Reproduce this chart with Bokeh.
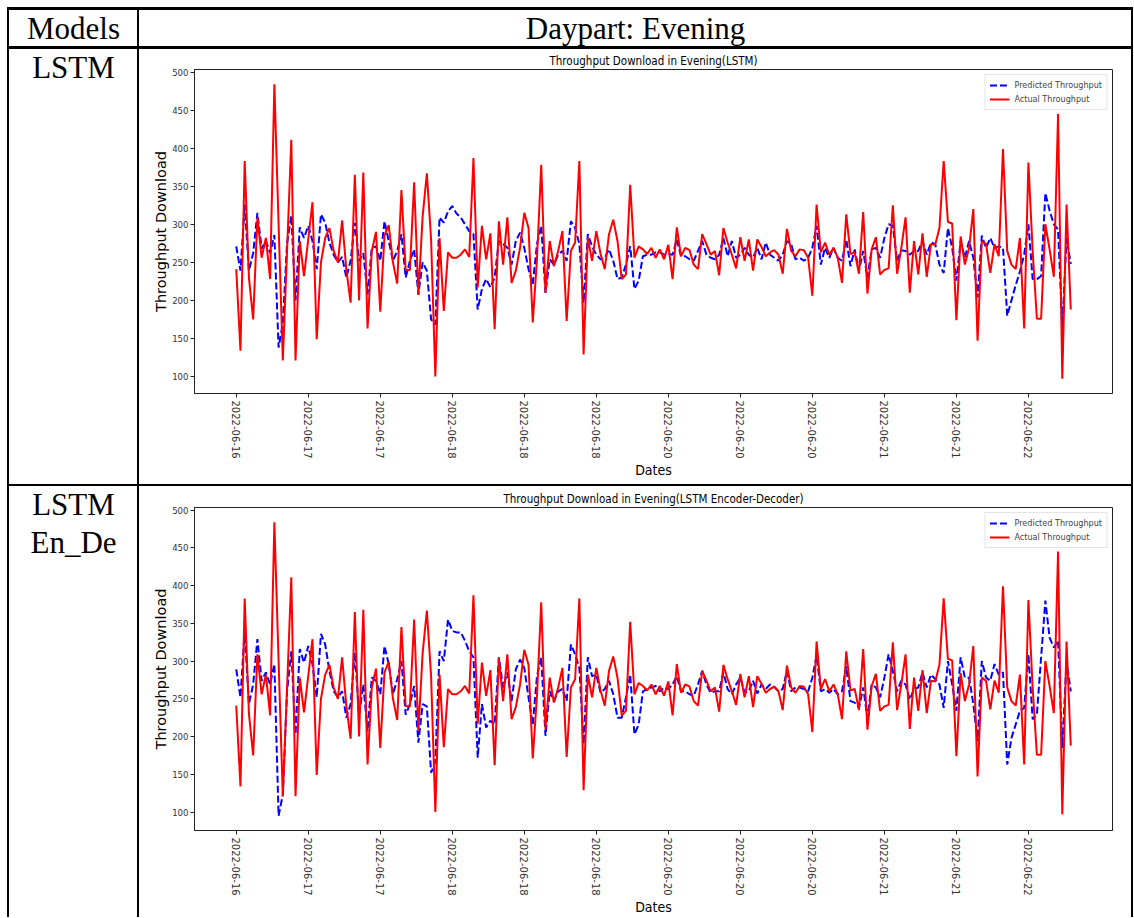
from bokeh.plotting import figure
from bokeh.layouts import column, row
from bokeh.models import Range1d, FixedTicker, Legend, LegendItem, Spacer, Div
from bokeh.core.properties import value
from bokeh.embed import file_html
from bokeh.resources import INLINE
from bokeh.core.validation import silence
from bokeh.core.validation.warnings import MISSING_RENDERERS

silence(MISSING_RENDERERS, True)

# ---------------- data ----------------
header_labels = ["Models", "Daypart: Evening"]
model_labels = [["LSTM"], ["LSTM", "En_De"]]
chart_titles = ["Throughput Download in Evening(LSTM)",
                "Throughput Download in Evening(LSTM Encoder-Decoder)"]
tick_labels = ["2022-06-16", "2022-06-17", "2022-06-17", "2022-06-18", "2022-06-18",
               "2022-06-18", "2022-06-20", "2022-06-20", "2022-06-20", "2022-06-21",
               "2022-06-21", "2022-06-22"]
tick_step = 17
y_ticks = [100, 150, 200, 250, 300, 350, 400, 450, 500]

actual = [
    241, 134, 383, 230, 175, 309, 256, 282, 228, 484,
    300, 121, 265, 411, 121, 278, 232, 280, 329, 149,
    250, 282, 295, 265, 250, 305, 240, 197, 365, 200,
    368, 163, 265, 290, 185, 285, 299, 250, 222, 345,
    240, 240, 355, 207, 310, 367, 280, 100, 282, 186,
    263, 256, 256, 260, 267, 257, 387, 217, 298, 254,
    288, 162, 304, 247, 309, 223, 239, 269, 315, 295,
    171, 255, 378, 210, 278, 245, 265, 291, 173, 265,
    276, 383, 129, 282, 252, 291, 261, 241, 287, 306,
    278, 228, 234, 352, 256, 271, 267, 261, 269, 256,
    267, 254, 273, 228, 296, 258, 269, 266, 247, 241,
    287, 274, 260, 265, 233, 295, 276, 260, 242, 283,
    252, 280, 239, 280, 270, 258, 263, 266, 260, 235,
    294, 265, 258, 267, 266, 256, 206, 326, 263, 276,
    260, 269, 256, 223, 313, 261, 263, 235, 316, 209,
    267, 283, 234, 240, 242, 325, 235, 269, 309, 210,
    278, 234, 288, 231, 274, 273, 295, 383, 303, 301,
    174, 284, 247, 269, 320, 147, 278, 274, 236, 274,
    258, 399, 265, 247, 241, 282, 163, 381, 265, 176,
    176, 300, 267, 231, 445, 97, 326, 188,
]

pred_lstm = [
    271, 239, 326, 239, 262, 315, 268, 278, 262, 286,
    138, 170, 275, 311, 200, 296, 282, 298, 278, 241,
    313, 302, 276, 260, 250, 257, 230, 252, 302, 252,
    262, 208, 269, 271, 252, 304, 278, 252, 265, 287,
    230, 252, 267, 208, 250, 239, 175, 168, 309, 302,
    317, 324, 314, 309, 300, 291, 287, 188, 215, 228,
    217, 230, 278, 274, 269, 247, 278, 289, 269, 241,
    221, 274, 298, 210, 254, 247, 260, 265, 252, 304,
    295, 274, 197, 287, 271, 260, 254, 256, 267, 252,
    228, 230, 247, 271, 215, 226, 258, 260, 260, 263,
    263, 260, 261, 260, 280, 258, 258, 254, 252, 265,
    278, 260, 256, 254, 260, 282, 258, 278, 256, 260,
    269, 260, 256, 269, 254, 276, 260, 256, 252, 260,
    278, 274, 254, 256, 252, 256, 269, 298, 247, 269,
    256, 269, 256, 252, 280, 245, 267, 239, 265, 230,
    267, 269, 256, 282, 300, 298, 252, 266, 265, 260,
    265, 265, 278, 260, 276, 274, 247, 236, 295, 269,
    226, 278, 256, 278, 256, 204, 285, 269, 282, 269,
    271, 269, 180, 200, 220, 238, 260, 300, 228, 228,
    232, 341, 318, 300, 293, 164, 282, 248,
]

pred_ende = [
    289, 252, 340, 243, 269, 329, 274, 285, 269, 296,
    95, 123, 260, 313, 203, 316, 298, 320, 296, 252,
    336, 322, 287, 260, 252, 260, 225, 243, 311, 229,
    269, 207, 278, 274, 256, 320, 296, 256, 276, 300,
    229, 243, 267, 192, 243, 240, 152, 167, 313, 300,
    355, 340, 338, 338, 327, 313, 305, 172, 243, 212,
    221, 216, 305, 265, 285, 247, 289, 302, 291, 252,
    216, 280, 305, 201, 260, 247, 260, 263, 247, 322,
    309, 291, 190, 305, 280, 282, 258, 263, 274, 256,
    225, 225, 252, 282, 203, 216, 260, 263, 265, 267,
    260, 265, 263, 269, 280, 260, 260, 256, 254, 269,
    287, 269, 258, 260, 260, 285, 263, 256, 269, 278,
    258, 260, 274, 257, 269, 263, 269, 266, 260, 263,
    287, 260, 265, 265, 263, 260, 278, 307, 260, 263,
    258, 263, 256, 260, 293, 247, 245, 238, 265, 225,
    269, 265, 252, 278, 309, 287, 260, 274, 269, 249,
    263, 265, 285, 265, 282, 276, 269, 238, 300, 269,
    234, 305, 278, 278, 243, 194, 300, 278, 274, 296,
    282, 285, 163, 198, 216, 234, 238, 309, 223, 229,
    305, 380, 331, 318, 327, 185, 300, 260,
]

# ---------------- layout sizes ----------------
OFFSET = 7
LEFT_W = 128
CHART_W = 992
V_LINE = 2
TOTAL_W = V_LINE * 3 + LEFT_W + CHART_W
HDR_H = 36
ROW1_H = 435
ROW2_H = 431
SERIF = "Liberation Serif"
COND = "DejaVu Sans Condensed"


def bar(w, h):
    return Div(text="", width=w, height=h, margin=0,
               styles={"background-color": "black"})


def cell(w, h, xs, ys, texts):
    f = figure(width=w, height=h, toolbar_location=None, output_backend="svg",
               title_location=None, frame_align=False,
               x_range=Range1d(0, w), y_range=Range1d(h, 0),
               min_border=0, x_axis_type=None, y_axis_type=None,
               background_fill_color="white", border_fill_color="white",
               outline_line_color=None)
    f.text(x=xs, y=ys, text=texts, text_font=value(SERIF), text_font_size="31px",
           text_align="center", text_baseline="middle", text_color="black")
    return f


def chart(title, pred, h, top, bottom):
    n = len(actual)
    xs = list(range(n))
    allv = pred + actual
    lo, hi = min(allv), max(allv)
    pad = 0.05 * (hi - lo)
    p = figure(width=CHART_W, height=h, toolbar_location=None, output_backend="svg",
               frame_align=False,
               x_range=Range1d(-0.05 * (n - 1), 1.05 * (n - 1)),
               y_range=Range1d(lo - pad, hi + pad),
               min_border_left=55, min_border_right=19, min_border_top=top,
               min_border_bottom=bottom, title=title,
               background_fill_color="white", border_fill_color="white")
    p.title.align = "center"
    p.title.text_font = COND
    p.title.text_font_size = "11.5px"
    p.title.text_font_style = "normal"
    p.title.text_color = "black"
    p.title.standoff = 3
    p.grid.visible = False
    p.outline_line_color = "#222222"
    p.outline_line_width = 1

    lp = p.line(xs, pred, line_color="blue", line_width=2, line_dash="7 3")
    la = p.line(xs, actual, line_color="red", line_width=2)

    legend = Legend(items=[LegendItem(label="Predicted Throughput", renderers=[lp]),
                           LegendItem(label="Actual Throughput", renderers=[la])],
                    location="top_right")
    legend.label_text_font = COND
    legend.label_text_font_size = "9px"
    legend.glyph_width = 20
    legend.glyph_height = 12
    legend.label_height = 12
    legend.label_standoff = 5
    legend.spacing = 2
    legend.padding = 4
    legend.margin = 5
    legend.border_line_color = "#cccccc"
    legend.border_line_width = 1
    legend.background_fill_alpha = 1.0
    p.add_layout(legend)

    tick_pos = [i * tick_step for i in range(len(tick_labels))]
    p.xaxis.ticker = FixedTicker(ticks=tick_pos)
    p.xaxis.major_label_overrides = {t: lab for t, lab in zip(tick_pos, tick_labels)}
    p.xaxis.major_label_orientation = "vertical"
    p.xaxis.axis_label = "Dates"
    p.yaxis.ticker = FixedTicker(ticks=y_ticks)
    p.yaxis.axis_label = "Throughput Download"

    for ax in (p.xaxis, p.yaxis):
        ax.axis_line_color = "#222222"
        ax.major_tick_line_color = "#222222"
        ax.major_tick_out = 4
        ax.major_tick_in = 0
        ax.minor_tick_line_color = None
        ax.major_label_text_color = "#333333"
        ax.axis_label_text_font_style = "normal"
        ax.axis_label_text_color = "black"
    p.xaxis.major_label_text_font = "DejaVu Sans"
    p.xaxis.major_label_text_font_size = "10px"
    p.xaxis.major_label_standoff = 3
    p.xaxis.axis_label_text_font = COND
    p.xaxis.axis_label_text_font_size = "14px"
    p.xaxis.axis_label_standoff = 0
    p.yaxis.major_label_text_font = COND
    p.yaxis.major_label_text_font_size = "9.5px"
    p.yaxis.major_label_standoff = 2
    p.yaxis.axis_label_text_font = "DejaVu Sans"
    p.yaxis.axis_label_text_font_size = "14.5px"
    p.yaxis.axis_label_standoff = 0
    return p


hdr = row(bar(V_LINE, HDR_H),
          cell(LEFT_W, HDR_H, [LEFT_W / 2], [HDR_H / 2], [header_labels[0]]),
          bar(V_LINE, HDR_H),
          cell(CHART_W, HDR_H, [CHART_W / 2], [HDR_H / 2], [header_labels[1]]),
          bar(V_LINE, HDR_H), spacing=0)

lab1 = model_labels[0]
row1 = row(bar(V_LINE, ROW1_H),
           cell(LEFT_W, ROW1_H, [LEFT_W / 2] * len(lab1), [18 + 38 * k for k in range(len(lab1))], lab1),
           bar(V_LINE, ROW1_H),
           chart(chart_titles[0], pred_lstm, ROW1_H, 20, 91),
           bar(V_LINE, ROW1_H), spacing=0)

lab2 = model_labels[1]
row2 = row(bar(V_LINE, ROW2_H),
           cell(LEFT_W, ROW2_H, [LEFT_W / 2] * len(lab2), [18 + 38 * k for k in range(len(lab2))], lab2),
           bar(V_LINE, ROW2_H),
           chart(chart_titles[1], pred_ende, ROW2_H, 21, 87),
           bar(V_LINE, ROW2_H), spacing=0)

table = column(bar(TOTAL_W, 3), hdr, bar(TOTAL_W, 3), row1, bar(TOTAL_W, 2), row2, spacing=0)
layout = column(Spacer(width=TOTAL_W + OFFSET, height=OFFSET),
                row(Spacer(width=OFFSET, height=10), table, spacing=0), spacing=0)

open("out.html", "w").write(file_html(layout, INLINE))
